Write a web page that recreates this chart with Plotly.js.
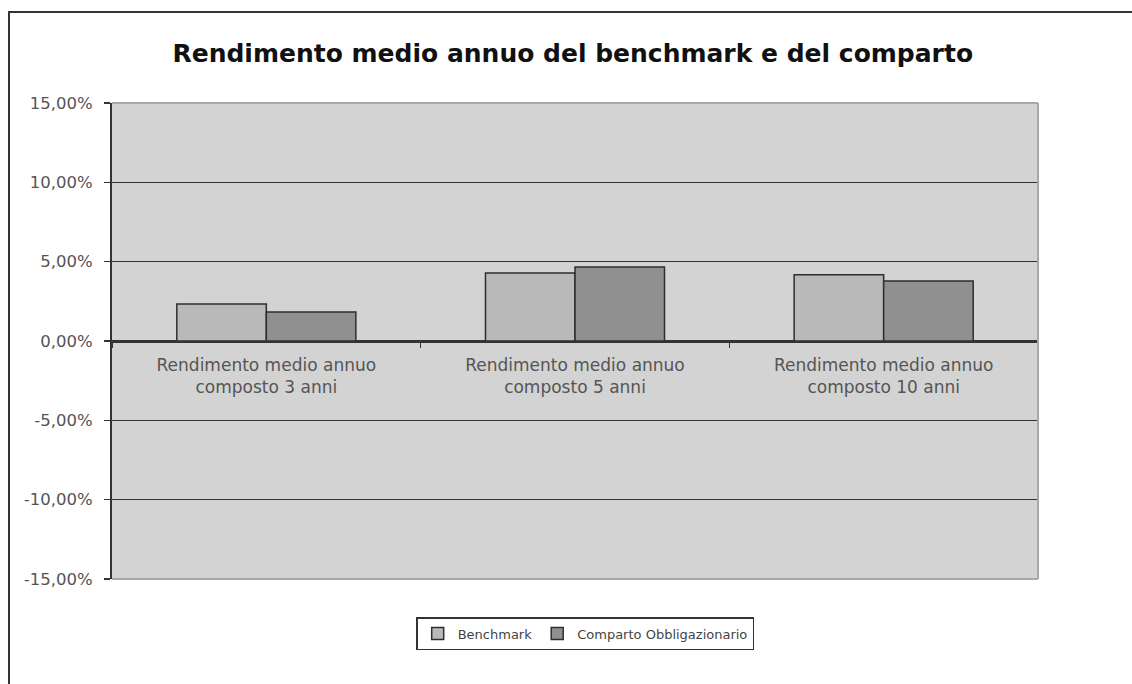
<!DOCTYPE html>
<html>
<head>
<meta charset="utf-8">
<script src="https://cdn.plot.ly/plotly-3.0.1.min.js"></script>
<style>
  html, body { margin: 0; padding: 0; background: #ffffff; }
  #wrap { position: relative; width: 1132px; height: 684px; overflow: hidden; }
  #chart { position: absolute; left: 0; top: 0; width: 1132px; height: 684px; }
  #frame { position: absolute; left: 8px; top: 11px; width: 1200px; height: 800px;
           border-left: 2px solid #333; border-top: 2px solid #333; pointer-events: none; }
</style>
</head>
<body>
<div id="wrap">
  <div id="chart"></div>
  <div id="frame"></div>
</div>
<script>
const categories = [
  "Rendimento medio annuo<br>composto 3 anni",
  "Rendimento medio annuo<br>composto 5 anni",
  "Rendimento medio annuo<br>composto 10 anni"
];
const benchmark = [0.0233, 0.0429, 0.0418];
const comparto = [0.0183, 0.0467, 0.0378];
const seriesNames = ["Benchmark", "Comparto Obbligazionario"];
const yTicks = [-0.15, -0.10, -0.05, 0, 0.05, 0.10, 0.15];
const yTickLabels = ["-15,00%", "-10,00%", "-5,00%", "0,00%", "5,00%", "10,00%", "15,00%"];

const traces = [
  { type: "bar", name: seriesNames[0], x: categories, y: benchmark,
    marker: { color: "#b9b9b9", line: { color: "#2e2e2e", width: 1.5 } }, hoverinfo: "y" },
  { type: "bar", name: seriesNames[1], x: categories, y: comparto,
    marker: { color: "#909090", line: { color: "#2e2e2e", width: 1.5 } }, hoverinfo: "y" }
];

const layout = {
  width: 1132, height: 684,
  margin: { l: 112, r: 94, t: 103, b: 105 },
  paper_bgcolor: "#ffffff",
  plot_bgcolor: "#d3d3d3",
  separators: ",.",
  font: { family: "DejaVu Sans, Verdana, sans-serif", color: "#555555" },
  title: { text: "Rendimento medio annuo del benchmark e del comparto",
           font: { family: "DejaVu Sans, Verdana, sans-serif", size: 25, color: "#111111", weight: "bold" },
           x: 0.506, xref: "container", y: 0.922, yref: "container", yanchor: "middle" },
  barmode: "group", bargap: 0.42, bargroupgap: 0,
  showlegend: true,
  legend: { orientation: "h", x: 0.511, xanchor: "center", y: -0.08, yanchor: "top",
            bordercolor: "#333333", borderwidth: 1.5, bgcolor: "#ffffff",
            font: { size: 13, color: "#444444" }, itemwidth: 30, traceorder: "normal" },
  xaxis: {
    type: "category", anchor: "free", position: 0.5,
    showline: true, linecolor: "#333333", linewidth: 1.5,
    ticks: "outside", tickson: "boundaries", ticklen: 5, tickcolor: "#333333", tickwidth: 1.5,
    tickfont: { size: 17, color: "#555555" }, ticklabelstandoff: 8,
    showgrid: false, zeroline: false, fixedrange: true
  },
  yaxis: {
    range: [-0.15, 0.15], tickvals: yTicks, ticktext: yTickLabels,
    showline: true, linecolor: "#333333", linewidth: 2,
    ticks: "outside", ticklen: 6, tickcolor: "#333333", tickwidth: 1.5,
    showgrid: true, gridcolor: "#333333", gridwidth: 1.5,
    zeroline: true, zerolinecolor: "#333333", zerolinewidth: 1.5,
    tickfont: { size: 16.5, color: "#555555" }, ticklabelstandoff: 8, fixedrange: true
  },
  shapes: [
    { type: "line", xref: "paper", yref: "paper", x0: 0, x1: 1, y0: 1, y1: 1,
      line: { color: "#a8a8a8", width: 2 }, layer: "above" },
    { type: "line", xref: "paper", yref: "paper", x0: 0, x1: 1, y0: 0, y1: 0,
      line: { color: "#a8a8a8", width: 2 }, layer: "above" },
    { type: "line", xref: "paper", yref: "paper", x0: 1, x1: 1, y0: 0, y1: 1,
      line: { color: "#a8a8a8", width: 2 }, layer: "above" }
  ]
};

Plotly.newPlot("chart", traces, layout, { staticPlot: true, displayModeBar: false });
</script>
</body>
</html>
